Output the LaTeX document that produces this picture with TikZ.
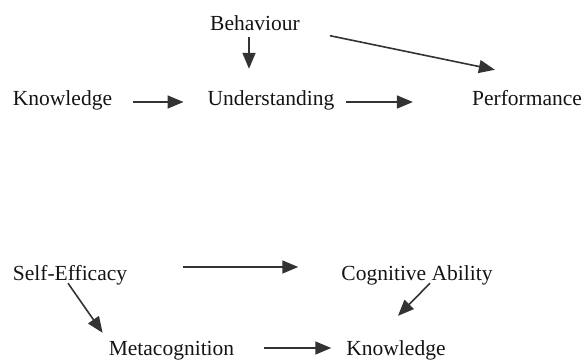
\documentclass[tikz,border=0pt]{standalone}
\usepackage{fontspec}
\setmainfont{Liberation Serif}
\usetikzlibrary{arrows.meta}

\begin{document}
\begin{tikzpicture}[x=1pt, y=1pt,
    lbl/.style={inner sep=0pt, text height=15pt, text depth=5pt, text=black!92,
                font=\fontsize{21.5}{24}\selectfont},
    arr/.style={-{Triangle[length=16pt, width=13pt]}, line width=1.6pt, draw=black!80}]
    \useasboundingbox (0,0) rectangle (585,-361);

    % first model
    \node (beh) at (255,-25.5) [lbl] {Behaviour};
    \node (kn1) at (62.5,-100) [lbl] {Knowledge};
    \node (und) at (271,-100) [lbl] {Understanding};
    \node (perf) at (527,-100) [lbl] {Performance};

    % second model
    \node (se) at (70,-275) [lbl] {Self-Efficacy};
    \node (cog) at (417,-275) [lbl] {Cognitive Ability};
    \node (meta) at (171.5,-350) [lbl] {Metacognition};
    \node (kn2) at (396,-350) [lbl] {Knowledge};

    \draw [arr, shorten <=21pt, shorten >=24pt] ([yshift=-2pt]kn1.east) -- ([yshift=-2pt]und.west);
    \draw [arr, shorten <=12pt, shorten >=59pt] ([yshift=-2pt]und.east) -- ([yshift=-2pt]perf.west);
    \draw [arr, shorten <=1.5pt, shorten >=21pt] ([xshift=-6pt]beh.south) -- ([xshift=-22pt]und.north);
    \draw [arr] ([xshift=30pt]beh.south east) -- ([shift={(23pt,20pt)}]perf.north west);

    \draw [arr, shorten <=56pt, shorten >=43pt] ([yshift=8pt]se.east) -- ([yshift=8pt]cog.west);
    \draw [arr] ([shift={(-2pt,2pt)}]se.south) -- ([shift={(-6pt,7pt)}]meta.north west);
    \draw [arr] ([shift={(13pt,2pt)}]cog.south) -- ([shift={(2pt,24pt)}]kn2.north);
    \draw [arr, shorten <=30pt, shorten >=15pt] ([yshift=2pt]meta.east) -- ([yshift=2pt]kn2.west);
\end{tikzpicture}
\end{document}
